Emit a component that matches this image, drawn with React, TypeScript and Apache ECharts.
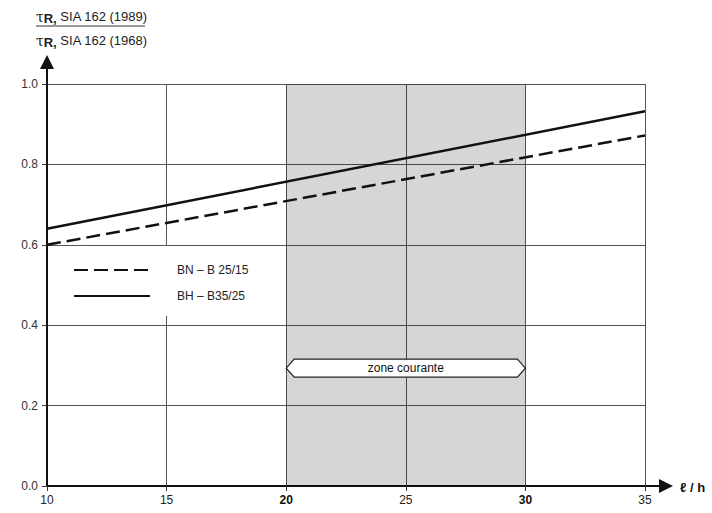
import React, { useEffect, useRef } from "react";
import * as echarts from "echarts";

const xMin = 10;
const xMax = 35;
const xStep = 5;
const boldXTicks = [20, 30];
const yMin = 0;
const yMax = 1.0;
const yStep = 0.2;

const seriesNames = ["BN – B 25/15", "BH – B35/25"];
const lineX = [10, 35];
const bnValues = [0.6, 0.872];
const bhValues = [0.64, 0.932];

const zoneRange = [20, 30];
const zoneLabel = "zone courante";
const zoneLabelY = 0.293;

const yTitle1 = "SIA 162 (1989)";
const yTitle2 = "SIA 162 (1968)";
const xTitle = "ℓ / h";

const FONT = "Liberation Sans, Arial, Helvetica, sans-serif";

export default function App() {
  const ref = useRef<HTMLDivElement>(null);
  useEffect(() => {
    if (!ref.current) return;
    const chart = echarts.init(ref.current, undefined, { renderer: "svg" });
    const option: any = {
      animation: false,
      backgroundColor: "#ffffff",
      textStyle: { fontFamily: FONT },
      grid: { left: 47, right: 67, top: 84, bottom: 27 },
      legend: {
        orient: "vertical",
        left: 48,
        top: 246,
        padding: [18, 36, 14, 25],
        itemGap: 14,
        itemWidth: 76,
        itemHeight: 14,
        backgroundColor: "#ffffff",
        itemStyle: { opacity: 0 },
        textStyle: { fontSize: 12, color: "#222", fontFamily: FONT, padding: [0, 0, 0, 22] },
        data: seriesNames,
      },
      xAxis: {
        type: "value",
        min: xMin,
        max: xMax,
        interval: xStep,
        axisLine: { show: true, onZero: false, lineStyle: { color: "#111", width: 2 } },
        axisTick: { show: true, length: 5, lineStyle: { color: "#333" } },
        axisLabel: {
          margin: 8,
          fontSize: 12,
          color: "#222",
          fontFamily: FONT,
          formatter: (v: number) => (boldXTicks.includes(v) ? `{b|${v}}` : `${v}`),
          rich: { b: { fontWeight: "bold", fontSize: 12, color: "#111", fontFamily: FONT } },
        },
        splitLine: { show: true, lineStyle: { color: "#555", width: 1 } },
      },
      yAxis: {
        type: "value",
        min: yMin,
        max: yMax,
        interval: yStep,
        axisLine: { show: true, lineStyle: { color: "#111", width: 2 } },
        axisTick: { show: true, length: 5, lineStyle: { color: "#333" } },
        axisLabel: {
          margin: 9,
          fontSize: 12,
          color: "#333",
          fontFamily: FONT,
          formatter: (v: number) => v.toFixed(1),
        },
        splitLine: { show: true, lineStyle: { color: "#555", width: 1 } },
      },
      series: [
        {
          name: seriesNames[0],
          type: "line",
          symbol: "none",
          data: lineX.map((x, i) => [x, bnValues[i]]),
          lineStyle: { color: "#111", width: 2.5, type: [14, 6] },
          itemStyle: { color: "#111" },
          z: 5,
          markArea: {
            silent: true,
            itemStyle: { color: "rgba(0,0,0,0.16)" },
            data: [[{ xAxis: zoneRange[0] }, { xAxis: zoneRange[1] }]],
          },
        },
        {
          name: seriesNames[1],
          type: "line",
          symbol: "none",
          data: lineX.map((x, i) => [x, bhValues[i]]),
          lineStyle: { color: "#111", width: 2.5 },
          itemStyle: { color: "#111" },
          z: 5,
        },
        {
          type: "custom",
          silent: true,
          z: 6,
          data: [[zoneRange[0], zoneRange[1], zoneLabelY]],
          renderItem: (params: any, api: any) => {
            const p0 = api.coord([api.value(0), api.value(2)]);
            const p1 = api.coord([api.value(1), api.value(2)]);
            const h = 9;
            const s = 8;
            const yc = p0[1];
            return {
              type: "group",
              children: [
                {
                  type: "polygon",
                  shape: {
                    points: [
                      [p0[0], yc],
                      [p0[0] + s, yc - h],
                      [p1[0] - s, yc - h],
                      [p1[0], yc],
                      [p1[0] - s, yc + h],
                      [p0[0] + s, yc + h],
                    ],
                  },
                  style: { fill: "#ffffff", stroke: "#222", lineWidth: 1.2 },
                },
                {
                  type: "text",
                  x: (p0[0] + p1[0]) / 2,
                  y: yc,
                  style: {
                    text: zoneLabel,
                    fill: "#111",
                    fontSize: 12,
                    fontFamily: FONT,
                    align: "center",
                    verticalAlign: "middle",
                  },
                },
              ],
            };
          },
        },
      ],
    };
    chart.setOption(option);

    const origin = chart.convertToPixel({ gridIndex: 0 }, [xMin, yMin]) as number[];
    const topLeft = chart.convertToPixel({ gridIndex: 0 }, [xMin, yMax]) as number[];
    const right = chart.convertToPixel({ gridIndex: 0 }, [xMax, yMin]) as number[];
    const yTip = topLeft[1] - 29;
    const xTip = right[0] + 28;
    chart.setOption({
      graphic: [
        { type: "line", shape: { x1: origin[0], y1: topLeft[1], x2: origin[0], y2: yTip + 10 }, style: { stroke: "#111", lineWidth: 2 } },
        { type: "polygon", shape: { points: [[origin[0], yTip], [origin[0] - 7, yTip + 14], [origin[0] + 7, yTip + 14]] }, style: { fill: "#111" } },
        { type: "line", shape: { x1: right[0], y1: origin[1], x2: xTip - 10, y2: origin[1] }, style: { stroke: "#111", lineWidth: 2 } },
        { type: "polygon", shape: { points: [[xTip, origin[1]], [xTip - 14, origin[1] - 7], [xTip - 14, origin[1] + 7]] }, style: { fill: "#111" } },
        {
          type: "text",
          x: xTip + 7,
          y: origin[1] + 1,
          style: { text: xTitle, fontSize: 13, fontWeight: "bold", fill: "#111", fontFamily: FONT, verticalAlign: "middle" },
        },
        {
          type: "text",
          x: 36,
          y: 8,
          style: {
            text: `{t|τ}{r|R,} ${yTitle1}`,
            fontSize: 13,
            fill: "#222",
            fontFamily: FONT,
            rich: {
              t: { fontSize: 14, fill: "#222", fontFamily: "DejaVu Serif, serif" },
              r: { fontSize: 13, fontWeight: "bold", fill: "#222", fontFamily: FONT, padding: [4, 0, 0, 0] },
            },
          },
        },
        { type: "line", shape: { x1: 36, y1: 26, x2: 145, y2: 26 }, style: { stroke: "#333", lineWidth: 1 } },
        {
          type: "text",
          x: 36,
          y: 32,
          style: {
            text: `{t|τ}{r|R,} ${yTitle2}`,
            fontSize: 13,
            fill: "#222",
            fontFamily: FONT,
            rich: {
              t: { fontSize: 14, fill: "#222", fontFamily: "DejaVu Serif, serif" },
              r: { fontSize: 13, fontWeight: "bold", fill: "#222", fontFamily: FONT, padding: [4, 0, 0, 0] },
            },
          },
        },
      ],
    });
    return () => chart.dispose();
  }, []);
  return <div ref={ref} style={{ width: 712, height: 513, position: "absolute", left: 0, top: 0 }} />;
}
